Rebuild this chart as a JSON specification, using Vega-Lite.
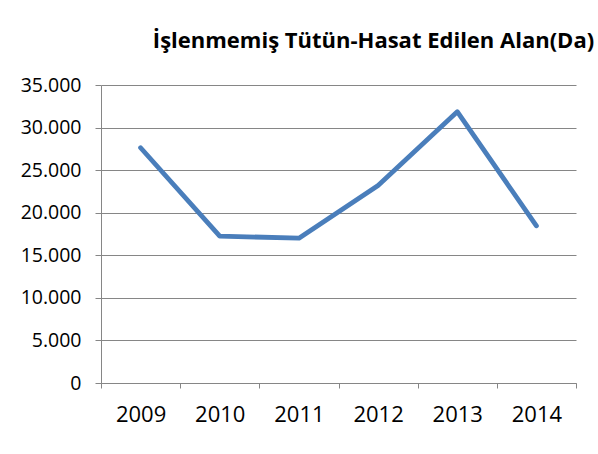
{
  "$schema": "https://vega.github.io/schema/vega-lite/v6.json",
  "width": 475,
  "height": 298,
  "autosize": {"type": "none"},
  "padding": {"left": 101, "top": 85, "right": 22, "bottom": 71},
  "background": "white",
  "title": {
    "text": "İşlenmemiş Tütün-Hasat Edilen Alan(Da)",
    "anchor": "middle",
    "dx": 35,
    "offset": 22,
    "font": "Open Sans",
    "fontSize": 22,
    "fontWeight": "bold",
    "color": "black"
  },
  "config": {
    "locale": {"number": {"decimal": ",", "thousands": ".", "grouping": [3], "currency": ["", ""]}},
    "view": {"stroke": null},
    "axis": {
      "labelFont": "Open Sans",
      "labelColor": "black",
      "domainColor": "#868686",
      "tickColor": "#868686",
      "gridColor": "#868686",
      "gridOpacity": 1,
      "domainWidth": 1,
      "tickWidth": 1,
      "gridWidth": 1,
      "title": null
    }
  },
  "data": {
    "values": [
      {"year": "2009", "value": 27630},
      {"year": "2010", "value": 17250},
      {"year": "2011", "value": 17010},
      {"year": "2012", "value": 23210},
      {"year": "2013", "value": 31860},
      {"year": "2014", "value": 18460}
    ]
  },
  "mark": {"type": "line", "color": "#4a7ebb", "strokeWidth": 4.8, "strokeCap": "round", "strokeJoin": "round"},
  "encoding": {
    "x": {
      "field": "year",
      "type": "ordinal",
      "bandPosition": 0.5,
      "scale": {"type": "band", "paddingInner": 0, "paddingOuter": 0},
      "axis": {
        "labelAngle": 0,
        "tickBand": "extent",
        "tickSize": 5,
        "labelPadding": 16,
        "labelFontSize": 22,
        "grid": false
      }
    },
    "y": {
      "field": "value",
      "type": "quantitative",
      "scale": {"domain": [0, 35000], "nice": false},
      "axis": {
        "values": [0, 5000, 10000, 15000, 20000, 25000, 30000, 35000],
        "format": ",d",
        "tickSize": 6,
        "labelPadding": 14,
        "labelFontSize": 19.5,
        "grid": true
      }
    }
  }
}
